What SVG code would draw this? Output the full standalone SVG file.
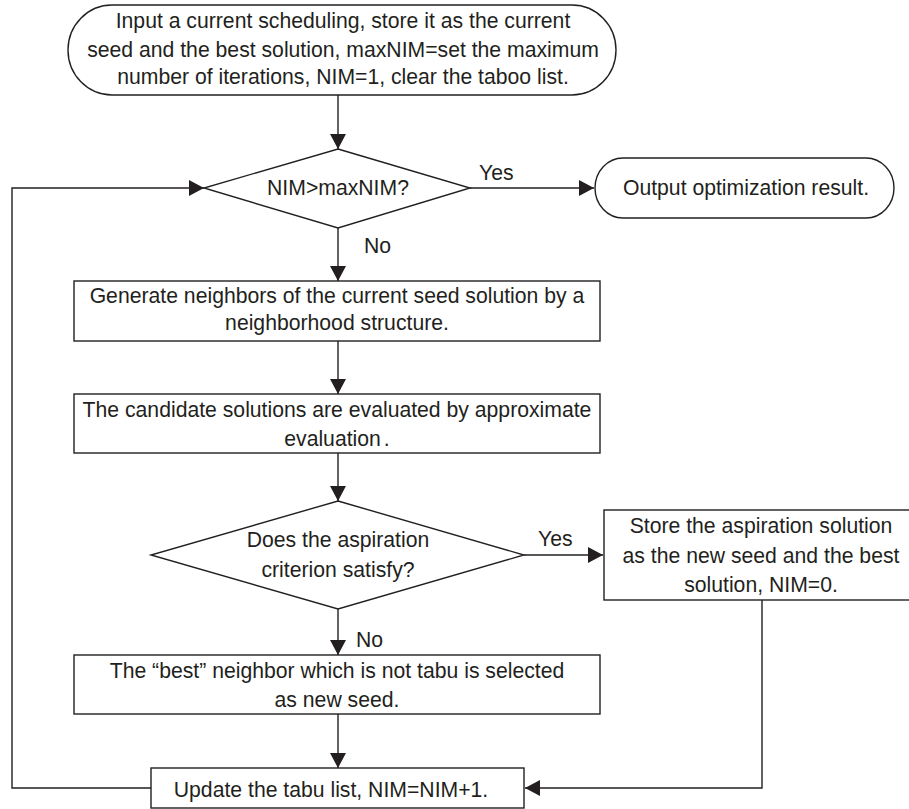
<svg xmlns="http://www.w3.org/2000/svg" width="909" height="809" viewBox="0 0 909 809">
<style>
.s{fill:#fff;stroke:#231f20;stroke-width:1.4}
.t{font-family:"Liberation Sans",Arial,sans-serif;font-size:21.2px;fill:#231f20;text-anchor:middle}
.l{font-family:"Liberation Sans",Arial,sans-serif;font-size:21.2px;fill:#231f20}
.c{fill:none;stroke:#231f20;stroke-width:1.4}
</style>
<defs>
<marker id="ah" markerUnits="userSpaceOnUse" markerWidth="16" markerHeight="16" refX="15" refY="8" orient="auto">
<path d="M0,0 L15,8 L0,16 z" fill="#231f20"/>
</marker>
</defs>
<rect width="909" height="809" fill="#fff"/>
<g id="connectors">
<line class="c" x1="338" y1="95" x2="338" y2="149" marker-end="url(#ah)"/>
<line class="c" x1="470" y1="188" x2="594" y2="188" marker-end="url(#ah)"/>
<line class="c" x1="338" y1="228" x2="338" y2="281" marker-end="url(#ah)"/>
<line class="c" x1="338" y1="341" x2="338" y2="394" marker-end="url(#ah)"/>
<line class="c" x1="338" y1="453" x2="338" y2="501" marker-end="url(#ah)"/>
<line class="c" x1="524" y1="555" x2="603" y2="555" marker-end="url(#ah)"/>
<line class="c" x1="338" y1="609" x2="338" y2="655" marker-end="url(#ah)"/>
<line class="c" x1="338" y1="714" x2="338" y2="768" marker-end="url(#ah)"/>
<polyline class="c" points="762,600 762,788 525,788" marker-end="url(#ah)"/>
<polyline class="c" points="151,788 12,788 12,188 204,188" marker-end="url(#ah)"/>
<text class="l" x="479" y="180">Yes</text>
<text class="l" x="364" y="253">No</text>
<text class="l" x="538" y="546">Yes</text>
<text class="l" x="356" y="647">No</text>
</g>
<g id="start">
<rect class="s" x="68" y="5" width="548" height="90" rx="44" ry="45"/>
<text class="t" x="343" y="28">Input a current scheduling, store it as the current</text>
<text class="t" x="343" y="57">seed and the best solution, maxNIM=set the maximum</text>
<text class="t" x="343" y="84">number of iterations, NIM=1, clear the taboo list.</text>
</g>
<g id="check-iter">
<polygon class="s" points="338,149 470,188 338,228 204,188"/>
<text class="t" x="338" y="195">NIM&gt;maxNIM?</text>
</g>
<g id="output">
<rect class="s" x="595" y="158" width="299" height="60" rx="28" ry="30"/>
<text class="t" x="746" y="195">Output optimization result.</text>
</g>
<g id="generate">
<rect class="s" x="74" y="281" width="526" height="60"/>
<text class="t" x="337" y="303">Generate neighbors of the current seed solution by a</text>
<text class="t" x="337" y="330">neighborhood structure.</text>
</g>
<g id="evaluate">
<rect class="s" x="74" y="394" width="526" height="59"/>
<text class="t" x="337" y="417">The candidate solutions are evaluated by approximate</text>
<text class="t" x="337" y="446">evaluation<tspan dx="3">.</tspan></text>
</g>
<g id="aspiration">
<polygon class="s" points="338,501 524,555 338,609 151,555"/>
<text class="t" x="338" y="547">Does the aspiration</text>
<text class="t" x="338" y="577">criterion satisfy?</text>
</g>
<g id="store">
<rect class="s" x="604" y="510" width="316" height="90"/>
<text class="t" x="761" y="533">Store the aspiration solution</text>
<text class="t" x="761" y="563">as the new seed and the best</text>
<text class="t" x="761" y="592">solution, NIM=0.</text>
</g>
<g id="select">
<rect class="s" x="74" y="655" width="526" height="59"/>
<text class="t" x="337" y="678">The “best” neighbor which is not tabu is selected</text>
<text class="t" x="337" y="707">as new seed.</text>
</g>
<g id="update">
<rect class="s" x="151" y="768" width="373" height="40"/>
<text class="t" x="331" y="797">Update the tabu list, NIM=NIM+1.</text>
</g>
</svg>
